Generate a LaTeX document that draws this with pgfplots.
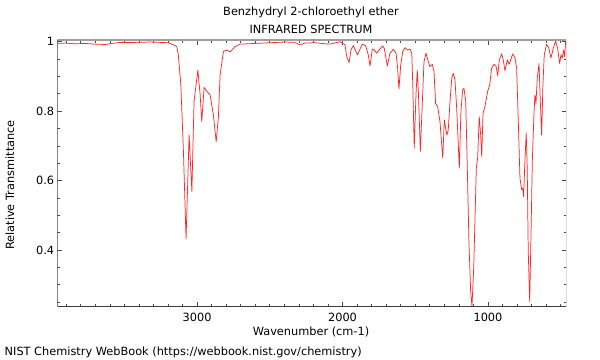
\documentclass[border=0pt]{standalone}
\usepackage{pgfplots}
\pgfplotsset{compat=1.18}
\usepackage{fontspec}
\setmainfont{DejaVu Sans}
\pgfplotstableread{
w T
3959 0.995
3907 0.996
3838 0.994
3770 0.995
3701 0.993
3632 0.992
3584 0.995
3529 0.998
3426 0.998
3323 0.999
3254 0.998
3199 0.997
3163 0.991
3140 0.986
3129 0.962
3112 0.876
3094 0.684
3076 0.432
3055 0.731
3036 0.569
3021 0.828
2995 0.918
2979 0.847
2968 0.770
2952 0.868
2933 0.857
2911 0.847
2888 0.789
2869 0.712
2854 0.780
2842 0.904
2819 0.972
2796 0.976
2773 0.970
2739 0.986
2704 0.993
2601 0.995
2498 0.997
2395 0.999
2326 0.998
2292 0.991
2258 0.996
2189 0.997
2120 0.994
2086 0.993
2017 1.000
1983 0.991
1971 0.957
1955 0.940
1942 0.976
1926 0.989
1898 0.962
1864 0.993
1841 0.988
1823 0.962
1811 0.930
1795 0.979
1781 0.976
1765 0.967
1749 0.976
1724 0.988
1713 0.981
1692 0.930
1674 0.967
1651 0.978
1632 0.967
1621 0.923
1612 0.864
1600 0.933
1586 0.972
1570 0.983
1555 0.976
1536 0.979
1524 0.967
1517 0.876
1507 0.693
1495 0.847
1486 0.918
1478 0.850
1465 0.684
1451 0.828
1440 0.942
1426 0.967
1410 0.942
1399 0.928
1383 0.935
1371 0.914
1360 0.822
1346 0.813
1330 0.770
1318 0.703
1311 0.665
1300 0.775
1291 0.751
1282 0.731
1273 0.746
1261 0.828
1249 0.895
1238 0.909
1227 0.890
1215 0.808
1204 0.703
1197 0.636
1186 0.799
1174 0.861
1165 0.866
1153 0.828
1142 0.636
1131 0.425
1119 0.281
1110 0.238
1098 0.348
1089 0.492
1080 0.636
1071 0.665
1060 0.784
1050 0.731
1043 0.669
1034 0.794
1021 0.813
1002 0.857
988 0.876
975 0.923
959 0.935
945 0.931
933 0.902
922 0.948
906 0.965
895 0.948
883 0.916
867 0.948
854 0.935
830 0.965
814 0.953
803 0.923
792 0.780
780 0.607
768 0.574
761 0.578
755 0.554
746 0.655
737 0.737
730 0.636
723 0.396
713 0.252
704 0.444
695 0.655
684 0.789
677 0.847
670 0.822
661 0.895
649 0.937
640 0.828
631 0.731
622 0.876
613 0.962
597 0.993
581 0.981
567 0.953
551 0.981
535 1.002
521 0.981
507 0.937
498 0.962
489 0.953
480 0.976
473 0.957
466 1.000
}\spec
\begin{document}
\begin{tikzpicture}[x=0.75pt,y=0.75pt]
\useasboundingbox (0,0) rectangle (600,360);
\begin{axis}[
  at={(43.125pt,39.75pt)}, anchor=south west,
  scale only axis, width=381.75pt, height=200.25pt,
  x dir=reverse, xmin=460, xmax=3960, ymin=0.236, ymax=1.0049,
  axis line style={draw=none},
  xtick={1000,2000,3000}, minor xtick={500,600,...,3900},
  ytick={0.4,0.6,0.8,1}, yticklabels={0.4,0.6,0.8,1},
  minor ytick={0.25,0.3,...,1.0},
  tick align=inside, major tick length=3.5pt, minor tick length=2.2pt,
  tick style={black!70, line width=0.5pt},
  ticklabel style={font=\fontsize{8.5}{10}\selectfont},
  /pgf/number format/assume math mode=true,
  /pgf/number format/1000 sep={},
  xticklabel style={yshift=-1pt},
  yticklabel style={xshift=1pt},
  clip=true,
]
\addplot[red!85!white, line width=0.55pt, line join=round] table[x=w,y=T] {\spec};
\draw[gray!75, line width=1pt] (rel axis cs:0,1) -- (rel axis cs:1,1) -- (rel axis cs:1,0);
\draw[black!75, line width=0.8pt] (rel axis cs:0,1) -- (rel axis cs:0,0) -- (rel axis cs:1,0);
\end{axis}
\node[font=\fontsize{8.5}{10}\selectfont] at (311,348) {Benzhydryl 2-chloroethyl ether};
\node[font=\fontsize{8.5}{10}\selectfont] at (311,331) {INFRARED SPECTRUM};
\node[font=\fontsize{8.5}{10}\selectfont] at (311,28) {Wavenumber (cm-1)};
\node[font=\fontsize{8.5}{10}\selectfont, rotate=90] at (10,175) {Relative Transmittance};
\node[font=\fontsize{8.5}{10}\selectfont, anchor=west] at (0,8) {NIST Chemistry WebBook (https://webbook.nist.gov/chemistry)};
\end{tikzpicture}
\end{document}
